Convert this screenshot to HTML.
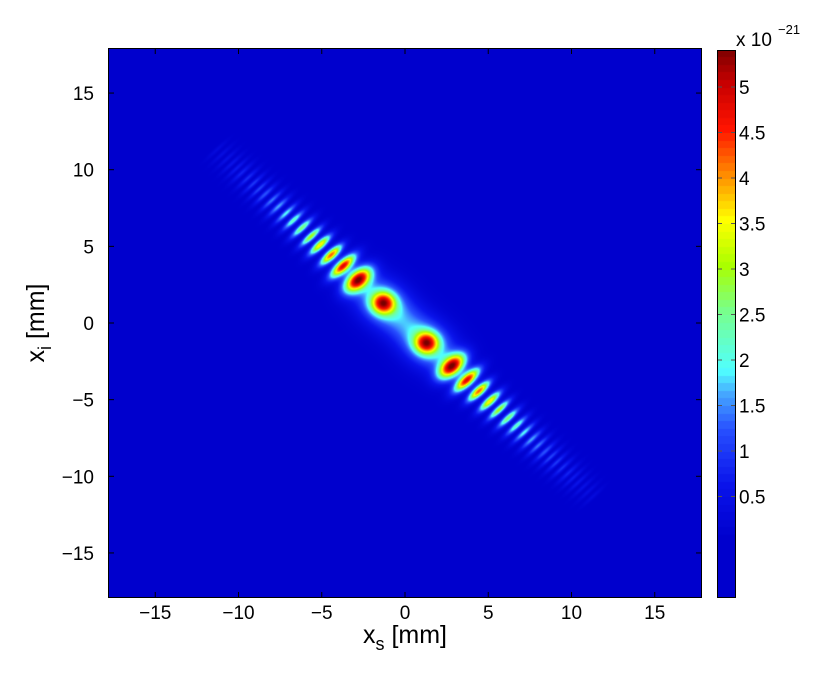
<!DOCTYPE html>
<html><head><meta charset="utf-8">
<style>
body{margin:0;background:#fff;width:830px;height:674px;overflow:hidden;font-family:"Liberation Sans",sans-serif;}
#wrap{position:relative;width:830px;height:674px;}
canvas{position:absolute;}
</style></head><body>
<div id="wrap">
<canvas id="hm" width="594" height="550" style="left:108px;top:48px"></canvas>
<canvas id="cb" width="18" height="548" style="left:717px;top:50px"></canvas>
<svg id="ov" width="830" height="674" style="position:absolute;left:0;top:0"></svg>
</div>
<script>
// lobe centres along x_s (symmetric, y = -x) and peak values (x 1e-21)
const lobePos = [1.3, 2.82, 3.72, 4.44, 5.1, 5.65, 6.2, 6.7, 7.15, 7.6, 8.0, 8.4, 8.75, 9.1, 9.45, 9.8, 10.1, 10.4, 10.7, 11.0, 11.3];
const lobeAmp = [3.4, 4.9, 4.7, 4.2, 3.6, 3.0, 2.6, 2.2, 1.9, 1.6, 1.4, 1.2, 1.05, 0.95, 0.85, 0.75, 0.65, 0.55, 0.45, 0.38, 0.3];
const haloAmp = 2.0;
const xTicks = [-15,-10,-5,0,5,10,15];
const yTicks = [15,10,5,0,-5,-10,-15];
const cbTicks = [0.5,1,1.5,2,2.5,3,3.5,4,4.5,5];

const X = x => 405 + 16.65*x, Y = y => 323 - 15.33*y;
const CBY = v => 542 - 91*v;

const cmap = [[0,[0,0,205]],[0.6,[10,20,235]],[1.2,[40,80,255]],[1.6,[70,170,255]],[1.85,[80,255,255]],[2.5,[120,255,140]],[3.0,[170,255,0]],[3.5,[255,255,0]],[4.0,[255,140,0]],[4.5,[255,20,0]],[5.0,[200,0,0]],[5.4,[120,0,0]]];
function col(v){
  if(v<=cmap[0][0]) return cmap[0][1];
  for(let i=1;i<cmap.length;i++){ if(v<=cmap[i][0]){const a=cmap[i-1],b=cmap[i];const t=(v-a[0])/(b[0]-a[0]);return a[1].map((c,k)=>c+(b[1][k]-c)*t);} }
  return cmap[cmap.length-1][1];
}
const lobes=[];
for(let i=0;i<lobePos.length;i++){
  const gap = i===0?1.2:(lobePos[i]-lobePos[i-1]);
  const su = i===0?0.5:Math.min(0.4,0.2*gap*1.414);
  const sv = i===0?0.5:(i<3?0.7:0.62);
  for(const s of [1,-1]) lobes.push({x:s*lobePos[i],y:-s*lobePos[i],a:lobeAmp[i],su,sv});
}
function val(x,y){
  let v=0;
  for(const L of lobes){
    const dx=x-L.x, dy=y-L.y;
    const u=(dx-dy)/1.4142, w=(dx+dy)/1.4142;
    const e=u*u/(2*L.su*L.su)+w*w/(2*L.sv*L.sv);
    if(e<12) v+=L.a*Math.exp(-e);
  }
  for(const s of [1,-1]){
    const dx=x-s*lobePos[0], dy=y+s*lobePos[0];
    const u=(dx-dy)/1.4142, w=(dx+dy)/1.4142;
    v+=haloAmp*Math.exp(-u*u/(2*1.4*1.4)-w*w/(2*0.95*0.95));
  }
  return v;
}
const hm=document.getElementById('hm').getContext('2d');
const img=hm.createImageData(594,550);
for(let j=0;j<550;j++){const y=(323-(48+j+0.5))/15.33;
  for(let i=0;i<594;i++){const x=(108+i+0.5-405)/16.65;
    const c=col(val(x,y));const k=(j*594+i)*4;
    img.data[k]=c[0];img.data[k+1]=c[1];img.data[k+2]=c[2];img.data[k+3]=255;}}
hm.putImageData(img,0,0);
const cb=document.getElementById('cb').getContext('2d');
for(let j=0;j<548;j++){const v=Math.max(0,(542-(50+j))/91);const c=col(Math.floor(v*12)/12);
  cb.fillStyle=`rgb(${c.map(Math.round).join(',')})`;cb.fillRect(0,j,18,1);}

const ov=document.getElementById('ov');const NS='http://www.w3.org/2000/svg';
function el(t,a,txt){const e=document.createElementNS(NS,t);for(const k in a)e.setAttribute(k,a[k]);if(txt!==undefined)e.textContent=txt;ov.appendChild(e);return e;}
let r=el('rect',{x:108.5,y:48.5,width:593,height:549,fill:'none',stroke:'#000','stroke-width':1});


r=el('rect',{x:717.5,y:50.5,width:18,height:547,fill:'none',stroke:'#000','stroke-width':1});


for(const t of xTicks){const px=X(t);
  el('line',{x1:px,x2:px,y1:598,y2:592,stroke:'#000'});el('line',{x1:px,x2:px,y1:48,y2:54,stroke:'#000'});
  const e=el('text',{x:px,y:619,'text-anchor':'middle','font-size':19,'font-family':'Liberation Sans'},t<0?'\u2212'+(-t):String(t));
  
  }
for(const t of yTicks){const py=Y(t);
  el('line',{x1:108,x2:114,y1:py,y2:py,stroke:'#000'});el('line',{x1:702,x2:696,y1:py,y2:py,stroke:'#000'});
  const e=el('text',{x:94,y:py+7,'text-anchor':'end','font-size':19,'font-family':'Liberation Sans'},t<0?'\u2212'+(-t):String(t));
  
  }
for(const t of cbTicks){const py=CBY(t);
  el('line',{x1:731,x2:735,y1:py,y2:py,stroke:'#555'});el('line',{x1:718,x2:722,y1:py,y2:py,stroke:'#555'});
  const e=el('text',{x:739,y:py+7,'font-size':19,'font-family':'Liberation Sans'},String(t));
  
  }
let e=el('text',{x:736,y:46,'font-size':19,'font-family':'Liberation Sans'},'x 10');


e=el('text',{x:778,y:34,'font-size':13,'font-family':'Liberation Sans'},'\u221221');


e=el('text',{x:405,y:643,'text-anchor':'middle','font-size':25,'font-family':'Liberation Sans'});
e.innerHTML='x<tspan font-size="18" dy="7">s</tspan><tspan dy="-7"> [mm]</tspan>';


e=el('text',{x:0,y:0,'text-anchor':'middle','font-size':25,'font-family':'Liberation Sans',transform:'translate(44,323) rotate(-90)'});
e.innerHTML='x<tspan font-size="18" dy="7">i</tspan><tspan dy="-7"> [mm]</tspan>';


</script>
</body></html>
